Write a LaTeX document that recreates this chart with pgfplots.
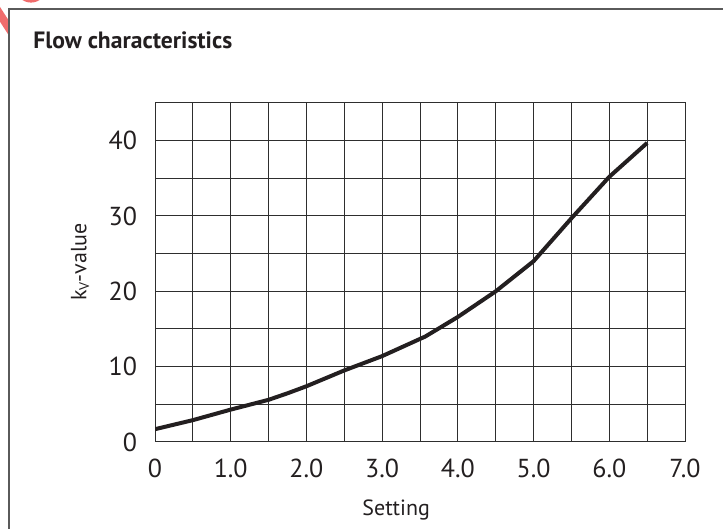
\documentclass[border=0pt]{standalone}
\usepackage{fontspec}
\setmainfont{PT Sans}
\usepackage{pgfplots}
\pgfplotsset{compat=1.18}
\definecolor{framegray}{HTML}{5A5A5A}
\definecolor{gridc}{HTML}{2E2E2E}
\definecolor{curve}{HTML}{231F20}
\definecolor{markred}{HTML}{F06C6C}
\begin{document}
\begin{tikzpicture}
% page = 723 x 529 px, 1 px = 0.5pt
\clip (0,0) rectangle (361.5pt,264.5pt);
\path[use as bounding box] (0,0) rectangle (361.5pt,264.5pt);
% red corner mark (partly hidden)
\fill[markred] (15.5pt,271pt) circle (7.8pt);
\begin{scope}
\clip (0,0) rectangle (4.5pt,264.5pt);
\draw[markred, line width=4pt] (-3pt,262pt) -- (6pt,248pt);
\end{scope}
% frame
\draw[framegray, line width=1pt] (4.5pt,-2pt) -- (4.5pt,260pt) -- (364pt,260pt);
\node[anchor=base west, inner sep=0pt, font=\fontsize{11.8}{13}\selectfont\bfseries, text=curve]
  at (16.5pt,240pt) {Flow characteristics};
\begin{axis}[
  at={(77.5pt,43.5pt)}, anchor=south west,
  scale only axis,
  width=265pt, height=169.5pt,
  xmin=0, xmax=7, ymin=0, ymax=45,
  xtick={0,1,...,7},
  xticklabels={0,1.0,2.0,3.0,4.0,5.0,6.0,7.0},
  minor xtick={0.5,1.5,...,6.5},
  ytick={0,10,...,40},
  minor ytick={5,15,...,45},
  grid=both,
  major grid style={gridc, line width=0.5pt},
  minor grid style={gridc, line width=0.5pt},
  axis line style={gridc, line width=0.5pt},
  major tick length=0pt, minor tick length=0pt,
  tick label style={font=\fontsize{13}{15}\selectfont, text=curve},
  /pgf/number format/assume math mode=true,
  yticklabel style={anchor=east, xshift=-5.5pt},
  xticklabel style={anchor=north, yshift=-5pt},
  every axis x label/.style={at={(axis description cs:0.455,-0.2006)}, anchor=center},
  every axis y label/.style={at={(axis description cs:-0.1415,0.531)}, anchor=center, rotate=90},
  label style={font=\fontsize{11}{13}\selectfont, text=curve},
  xlabel={Setting},
  ylabel={k\raisebox{-0.25ex}{\scriptsize V}-value},
]
\addplot[curve, line width=2pt, line join=round] coordinates {
  (0,1.7) (0.5,2.9) (1.0,4.3) (1.5,5.6) (1.76,6.5) (2.0,7.4) (2.5,9.5)
  (3.0,11.4) (3.57,14.0) (4.0,16.6) (4.5,20.0) (5.0,24.0) (5.5,29.7)
  (6.0,35.2) (6.5,39.7)
};
\end{axis}
\end{tikzpicture}
\end{document}
